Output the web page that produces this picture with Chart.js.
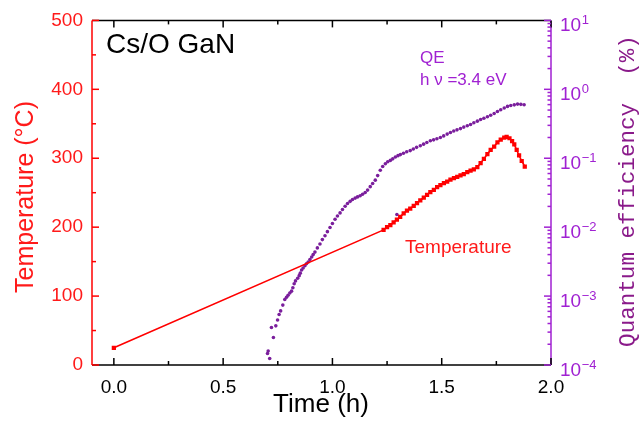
<!DOCTYPE html>
<html>
<head>
<meta charset="utf-8">
<script src="https://cdn.jsdelivr.net/npm/chart.js@4/dist/chart.umd.min.js"></script>
<style>
  html, body { margin: 0; padding: 0; background: #fff; }
  canvas { display: block; }
</style>
</head>
<body>
<canvas id="chart" width="641" height="425"></canvas>
<script>
// Heating run: sample temperature (°C) versus time (h)
const timeTemp = [0.000, 1.234, 1.250, 1.265, 1.280, 1.295, 1.310, 1.326, 1.341, 1.356, 1.372,
  1.387, 1.402, 1.418, 1.433, 1.448, 1.464, 1.479, 1.494, 1.510, 1.525, 1.540, 1.556, 1.571,
  1.586, 1.601, 1.617, 1.632, 1.647, 1.663, 1.678, 1.693, 1.709, 1.724, 1.740, 1.755, 1.770,
  1.786, 1.797, 1.810, 1.822, 1.832, 1.843, 1.854, 1.866, 1.880];
const temperature = [25, 196, 200, 203, 207, 211, 215, 220, 224, 227, 231,
  235, 239, 243, 247, 251, 254, 258, 261, 264, 266, 269, 271, 273,
  275, 277, 280, 282, 284, 287, 293, 299, 306, 312, 317, 323, 327,
  330, 331, 329, 325, 320, 312, 304, 296, 288];

// Quantum efficiency (%) at hν = 3.4 eV versus time (h)
const timeQE = [0.703, 0.706, 0.713, 0.721, 0.730, 0.741, 0.749, 0.756, 0.763, 0.773, 0.782,
  0.790, 0.797, 0.805, 0.813, 0.819, 0.825, 0.831, 0.841, 0.848, 0.853, 0.859, 0.866, 0.874,
  0.881, 0.889, 0.897, 0.905, 0.912, 0.920, 0.931, 0.943, 0.954, 0.966, 0.977, 0.989, 1.000,
  1.012, 1.023, 1.035, 1.046, 1.058, 1.069, 1.081, 1.092, 1.104, 1.115, 1.127, 1.138, 1.150,
  1.161, 1.173, 1.184, 1.196, 1.207, 1.219, 1.230, 1.242, 1.253, 1.265, 1.276, 1.288, 1.295,
  1.300, 1.311, 1.325, 1.340, 1.356, 1.370, 1.385, 1.402, 1.417, 1.432, 1.448, 1.463, 1.478,
  1.494, 1.509, 1.525, 1.540, 1.555, 1.570, 1.586, 1.601, 1.617, 1.632, 1.647, 1.663, 1.678,
  1.693, 1.709, 1.724, 1.740, 1.755, 1.770, 1.786, 1.801, 1.816, 1.832, 1.847, 1.862, 1.877];
const qe = [1.47e-4, 1.60e-4, 1.24e-4, 3.5e-4, 2.5e-4, 3.7e-4, 4.5e-4, 5.4e-4, 6.1e-4, 7.4e-4, 8.9e-4,
  9.6e-4, 1.03e-3, 1.11e-3, 1.18e-3, 1.32e-3, 1.51e-3, 1.66e-3, 1.81e-3, 1.98e-3, 2.15e-3, 2.39e-3, 2.55e-3, 2.75e-3,
  2.95e-3, 3.13e-3, 3.40e-3, 3.69e-3, 4.00e-3, 4.35e-3, 5.0e-3, 5.7e-3, 6.6e-3, 7.5e-3, 8.6e-3, 9.9e-3, 1.13e-2,
  1.30e-2, 1.45e-2, 1.61e-2, 1.80e-2, 2.01e-2, 2.20e-2, 2.37e-2, 2.52e-2, 2.64e-2, 2.75e-2, 2.85e-2, 3.00e-2, 3.18e-2,
  3.45e-2, 3.87e-2, 4.30e-2, 4.81e-2, 5.6e-2, 6.7e-2, 7.6e-2, 8.3e-2, 8.9e-2, 9.3e-2, 9.8e-2, 1.04e-1, 1.53e-2,
  1.09e-1, 1.13e-1, 1.18e-1, 1.24e-1, 1.29e-1, 1.36e-1, 1.44e-1, 1.52e-1, 1.60e-1, 1.69e-1, 1.79e-1, 1.85e-1, 1.92e-1,
  2.00e-1, 2.11e-1, 2.24e-1, 2.36e-1, 2.48e-1, 2.58e-1, 2.69e-1, 2.83e-1, 2.96e-1, 3.09e-1, 3.27e-1, 3.45e-1, 3.64e-1,
  3.81e-1, 4.00e-1, 4.20e-1, 4.45e-1, 4.77e-1, 5.06e-1, 5.36e-1, 5.65e-1, 5.82e-1, 5.95e-1, 6.10e-1, 6.05e-1, 5.96e-1];

// Axis ticks
const timeTicks = [0, 0.5, 1.0, 1.5, 2.0];
const timeMinorTicks = [0.25, 0.75, 1.25, 1.75];
const tempTicks = [0, 100, 200, 300, 400, 500];
const tempMinorTicks = [50, 150, 250, 350, 450];
const qeTicks = [1e-4, 1e-3, 1e-2, 1e-1, 1e0, 1e1];
const qeTickExponents = ['\u22124', '\u22123', '\u22122', '\u22121', '0', '1'];

const RED = '#ff1a1a';
const VIOLET = '#a021d2';
const QE_DOT = '#7a1e9c';
const QE_TITLE = '#8a1a8a';
const SANS = '"Liberation Sans", Arial, sans-serif';
const MONO = '"Liberation Mono", "DejaVu Sans Mono", monospace';

const toXY = (xs, ys) => xs.map((x, i) => ({ x, y: ys[i] }));

// Frame, inward tick marks, log tick labels and titles
const decorations = {
  id: 'decorations',
  afterDraw(chart) {
    const { ctx, chartArea: a, scales } = chart;
    const x = scales.x, y = scales.y, y1 = scales.y1;
    ctx.save();
    ctx.lineWidth = 1.5;

    const hLine = (yy, x0, x1, c) => { ctx.strokeStyle = c; ctx.beginPath(); ctx.moveTo(x0, yy); ctx.lineTo(x1, yy); ctx.stroke(); };
    const vLine = (xx, y0, yy1, c) => { ctx.strokeStyle = c; ctx.beginPath(); ctx.moveTo(xx, y0); ctx.lineTo(xx, yy1); ctx.stroke(); };

    // frame
    hLine(a.top, a.left, a.right, '#000');
    hLine(a.bottom, a.left, a.right, '#000');
    vLine(a.left, a.top, a.bottom, '#ff0000');
    vLine(a.right, a.top, a.bottom, VIOLET);

    // time ticks on bottom and top
    const xt = (v, len) => {
      const px = x.getPixelForValue(v);
      vLine(px, a.bottom, a.bottom - len, '#000');
      vLine(px, a.top, a.top + len, '#000');
    };
    timeTicks.forEach(v => xt(v, 7));
    timeMinorTicks.forEach(v => xt(v, 4));

    // temperature ticks on left
    tempTicks.forEach(v => { const py = y.getPixelForValue(v); hLine(py, a.left, a.left + 7, '#ff0000'); });
    tempMinorTicks.forEach(v => { const py = y.getPixelForValue(v); hLine(py, a.left, a.left + 4, '#ff0000'); });

    // QE ticks on right (log decades + minor)
    qeTicks.forEach((v, i) => {
      const py = y1.getPixelForValue(v);
      hLine(py, a.right, a.right - 7, VIOLET);
      if (i < qeTicks.length - 1) {
        for (let m = 2; m <= 9; m++) {
          const pm = y1.getPixelForValue(v * m);
          hLine(pm, a.right, a.right - 3.5, VIOLET);
        }
      }
    });

    // QE tick labels: 10 with superscript exponent
    ctx.fillStyle = VIOLET;
    ctx.textAlign = 'left';
    ctx.textBaseline = 'alphabetic';
    qeTicks.forEach((v, i) => {
      const py = y1.getPixelForValue(v);
      ctx.font = '19px ' + SANS;
      ctx.fillText('10', 560, py + 11);
      const w = ctx.measureText('10').width;
      ctx.font = '13px ' + SANS;
      ctx.fillText(qeTickExponents[i], 560 + w + 0.5, py + 4);
    });

    // axis titles
    ctx.textAlign = 'center';
    ctx.textBaseline = 'middle';
    ctx.fillStyle = RED;
    ctx.font = '25px ' + SANS;
    ctx.save(); ctx.translate(26, 197); ctx.rotate(-Math.PI / 2);
    ctx.fillText('Temperature (\u00B0C)', 0, 0); ctx.restore();

    ctx.fillStyle = QE_TITLE;
    ctx.font = '22.6px ' + MONO;
    ctx.save(); ctx.translate(628, 191); ctx.rotate(-Math.PI / 2);
    ctx.fillText('Quantum efficiency  (%)', 0, 0); ctx.restore();

    ctx.fillStyle = '#000';
    ctx.font = '26px ' + SANS;
    ctx.fillText('Time (h)', 321, 405);

    // in-plot labels
    ctx.textAlign = 'left';
    ctx.textBaseline = 'alphabetic';
    ctx.fillStyle = '#000';
    ctx.font = '28px ' + SANS;
    ctx.fillText('Cs/O GaN', 106, 53);

    ctx.fillStyle = VIOLET;
    ctx.font = '17px ' + SANS;
    ctx.fillText('QE', 420, 63);
    ctx.fillText('h \u03BD =3.4 eV', 420, 85);

    ctx.fillStyle = RED;
    ctx.font = '19px ' + SANS;
    ctx.fillText('Temperature', 405, 253);

    ctx.restore();
  }
};

new Chart(document.getElementById('chart'), {
  type: 'scatter',
  data: {
    datasets: [
      {
        label: 'Temperature',
        data: toXY(timeTemp, temperature),
        yAxisID: 'y',
        showLine: true,
        borderColor: '#ff0000',
        borderWidth: 1.6,
        backgroundColor: '#ff0000',
        pointStyle: 'rect',
        pointRadius: 3,
        pointBorderWidth: 0,
        order: 1
      },
      {
        label: 'QE',
        data: toXY(timeQE, qe),
        yAxisID: 'y1',
        showLine: false,
        backgroundColor: QE_DOT,
        borderColor: QE_DOT,
        pointRadius: 1.8,
        pointBorderWidth: 0,
        order: 2
      }
    ]
  },
  options: {
    responsive: false,
    animation: false,
    events: [],
    layout: { padding: { top: 14, left: 0, right: 0, bottom: 0 } },
    plugins: { legend: { display: false }, tooltip: { enabled: false } },
    scales: {
      x: {
        type: 'linear',
        min: -0.1,
        max: 2.0,
        afterBuildTicks: s => { s.ticks = timeTicks.map(v => ({ value: v })); },
        afterFit: s => { s.height = 60; },
        grid: { display: false, drawTicks: false },
        border: { display: false },
        ticks: {
          color: '#000',
          font: { family: SANS, size: 19 },
          padding: 11,
          maxRotation: 0,
          callback: v => v.toFixed(1)
        }
      },
      y: {
        type: 'linear',
        position: 'left',
        min: 0,
        max: 500,
        afterBuildTicks: s => { s.ticks = tempTicks.map(v => ({ value: v })); },
        afterFit: s => { s.width = 92; },
        grid: { display: false, drawTicks: false },
        border: { display: false },
        ticks: {
          color: RED,
          font: { family: SANS, size: 19 },
          padding: 9
        }
      },
      y1: {
        type: 'logarithmic',
        position: 'right',
        min: 1e-4,
        max: 1e1,
        afterBuildTicks: s => { s.ticks = qeTicks.map(v => ({ value: v })); },
        afterFit: s => { s.width = 90; },
        grid: { display: false, drawTicks: false },
        border: { display: false },
        ticks: { display: false }
      }
    }
  },
  plugins: [decorations]
});
</script>
</body>
</html>
